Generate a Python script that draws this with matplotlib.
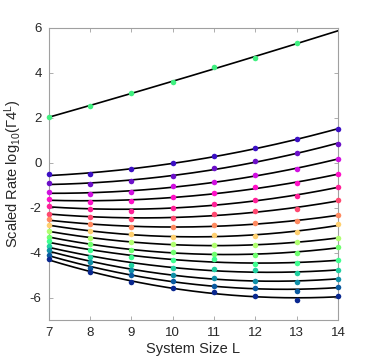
import numpy as np
import matplotlib
matplotlib.use("Agg")
import matplotlib.pyplot as plt

plt.rcParams['font.family'] = ['Liberation Sans', 'DejaVu Sans']
plt.rcParams['mathtext.default'] = 'regular'

L = np.array([7, 8, 9, 10, 11, 12, 13, 14])

top_L = np.array([7, 8, 9, 10, 11, 12, 13])
top_vals = np.array([2.01, 2.52, 3.09, 3.59, 4.23, 4.63, 5.32])
top_color = '#40f080'

series = [
    [-0.53, -0.53, -0.30, -0.01, 0.27, 0.63, 1.04, 1.49],
    [-0.93, -0.94, -0.84, -0.59, -0.26, 0.05, 0.41, 0.84],
    [-1.33, -1.39, -1.30, -1.04, -0.88, -0.57, -0.29, 0.17],
    [-1.61, -1.76, -1.73, -1.55, -1.34, -1.09, -0.91, -0.53],
    [-1.95, -2.05, -2.14, -2.02, -1.86, -1.67, -1.47, -1.10],
    [-2.27, -2.41, -2.51, -2.45, -2.30, -2.17, -2.07, -1.68],
    [-2.53, -2.75, -2.88, -2.88, -2.79, -2.70, -2.60, -2.35],
    [-2.78, -3.06, -3.19, -3.30, -3.21, -3.27, -3.10, -2.75],
    [-3.04, -3.37, -3.52, -3.64, -3.67, -3.68, -3.55, -3.34],
    [-3.31, -3.62, -3.90, -3.98, -4.05, -4.10, -4.01, -3.76],
    [-3.50, -3.90, -4.20, -4.33, -4.29, -4.51, -4.45, -4.35],
    [-3.70, -4.19, -4.54, -4.69, -4.72, -4.79, -4.93, -4.78],
    [-3.90, -4.42, -4.79, -4.99, -5.13, -5.25, -5.30, -5.16],
    [-4.11, -4.67, -5.00, -5.27, -5.49, -5.58, -5.70, -5.53],
    [-4.29, -4.88, -5.30, -5.59, -5.74, -5.93, -6.13, -5.92],
]
colors = ['#3c10c4', '#6c10c8', '#d010e0', '#ff10c8', '#ff2098', '#ff4870',
          '#ff8a60', '#ffd070', '#b0ff70', '#70ff70', '#40ff90', '#20d0a0',
          '#1090a8', '#0a5aa0', '#0a2890']

xticks = [7, 8, 9, 10, 11, 12, 13, 14]
yticks = [-6, -4, -2, 0, 2, 4, 6]

fig = plt.figure(figsize=(3.74, 3.60), dpi=100)
ax = fig.add_axes([0.1297, 0.111, 0.7748, 0.8126])

xf = np.linspace(7, 14, 200)

def draw(xs, ys, c):
    p = np.polyfit(xs, ys, 2)
    ax.plot(xf, np.polyval(p, xf), color='black', lw=1.2, zorder=2)
    ax.plot(xs, ys, 'o', color=c, ms=4, mec='none', zorder=3, clip_on=False)

draw(top_L, top_vals, top_color)
for s, c in zip(series, colors):
    draw(L, np.array(s), c)

ax.set_xlim(7, 14)
ax.set_ylim(-7, 6)
ax.set_xticks(xticks)
ax.set_yticks(yticks)
ax.set_yticklabels([str(v) for v in yticks])
for sp in ax.spines.values():
    sp.set_color('#a0a0a0')
    sp.set_linewidth(0.8)
    sp.set_zorder(1)
ax.tick_params(direction='in', length=3, width=0.6, color='#a0a0a0',
               labelsize=9.5, labelcolor='#262626', top=True, right=True, pad=5)
ax.set_xlabel('System Size L', fontsize=10.5, color='#262626', labelpad=2)
ax.set_ylabel(r'Scaled Rate log$_{10}$($\Gamma$4$^{L}$)', fontsize=10.5,
              color='#262626', labelpad=4)

fig.savefig('out.png', dpi=100)
